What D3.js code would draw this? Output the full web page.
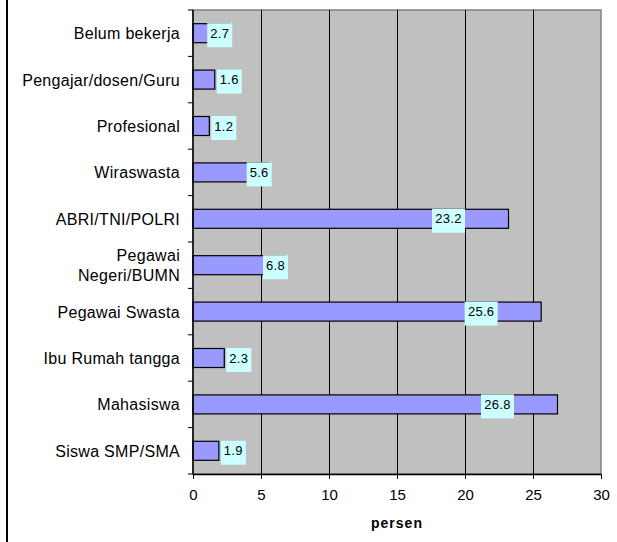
<!DOCTYPE html>
<html>
<head>
<meta charset="utf-8">
<script src="https://cdn.jsdelivr.net/npm/d3@7"></script>
<style>
  body { margin: 0; background: #fff; }
  text { font-family: Arial, "Liberation Sans", sans-serif; }
</style>
</head>
<body>
<svg width="617" height="542"></svg>
<script>
// data, top to bottom as in the chart
var categories = ['Belum bekerja', 'Pengajar/dosen/Guru', 'Profesional', 'Wiraswasta',
  'ABRI/TNI/POLRI', 'Pegawai Negeri/BUMN', 'Pegawai Swasta', 'Ibu Rumah tangga',
  'Mahasiswa', 'Siswa SMP/SMA']
var values = [2.7, 1.6, 1.2, 5.6, 23.2, 6.8, 25.6, 2.3, 26.8, 1.9]
var xTicks = [0, 5, 10, 15, 20, 25, 30]
var axisTitle = 'persen'

var svg = d3.select('svg')
// note: "top" is taken by window.top, so use other names
var pLeft = 193, pTop = 10, pRight = 601, pBottom = 474

var x = d3.scaleLinear().domain([0, 30]).range([pLeft, pRight])
var y = d3.scaleBand().domain(categories).range([pTop, pBottom])
  .paddingInner(0.59).paddingOuter(0.295)

// outer frame line on the left
svg.append('line')
  .attr('x1', 7).attr('x2', 7).attr('y1', 0).attr('y2', 542)
  .attr('stroke', '#000').attr('stroke-width', 2)

// plot area
svg.append('rect')
  .attr('x', pLeft).attr('y', pTop)
  .attr('width', pRight - pLeft).attr('height', pBottom - pTop)
  .attr('fill', '#c0c0c0')
  .attr('stroke', '#808080').attr('stroke-width', 1.5)

// grid lines
svg.selectAll('.grid')
  .data(xTicks.filter((d) => d > 0 && d < 30))
  .enter()
    .append('line')
    .attr('class', 'grid')
    .attr('x1', (d) => x(d) + 0.5).attr('x2', (d) => x(d) + 0.5)
    .attr('y1', pTop).attr('y2', pBottom)
    .attr('stroke', '#000').attr('stroke-width', 1)

// bars
svg.selectAll('.bar')
  .data(values)
  .enter()
    .append('rect')
    .attr('class', 'bar')
    .attr('x', x(0))
    .attr('y', (d, i) => y(categories[i]))
    .attr('width', (d) => x(d) - x(0))
    .attr('height', y.bandwidth())
    .attr('fill', '#9999ff')
    .attr('stroke', '#000').attr('stroke-width', 1.2)

// y axis line and ticks at band edges
svg.append('line')
  .attr('x1', pLeft).attr('x2', pLeft).attr('y1', pTop).attr('y2', pBottom)
  .attr('stroke', '#000').attr('stroke-width', 1.5)

svg.selectAll('.ytick')
  .data(d3.range(categories.length + 1))
  .enter()
    .append('line')
    .attr('class', 'ytick')
    .attr('x1', pLeft - 5).attr('x2', pLeft)
    .attr('y1', (i) => pTop + i * y.step()).attr('y2', (i) => pTop + i * y.step())
    .attr('stroke', '#000').attr('stroke-width', 1)

// category labels, the long one wrapped on two lines
svg.selectAll('.cat')
  .data(categories)
  .enter()
    .append('text')
    .attr('class', 'cat')
    .attr('text-anchor', 'end')
    .attr('font-size', 16)
    .attr('letter-spacing', 0.3)
    .attr('fill', '#000')
    .each(function (d) {
      var cy = y(d) + y.bandwidth() / 2
      var lines = d === 'Pegawai Negeri/BUMN' ? ['Pegawai', 'Negeri/BUMN'] : [d]
      var t = d3.select(this)
      lines.forEach((line, k) => {
        t.append('tspan')
          .attr('x', 180)
          .attr('y', cy + 6 + (k - (lines.length - 1) / 2) * 20)
          .text(line)
      })
    })

// x axis
var xAxis = svg.append('g')
  .attr('transform', 'translate(0,' + pBottom + ')')
  .call(d3.axisBottom(x).tickValues(xTicks).tickSize(5).tickSizeOuter(0).tickPadding(10))

xAxis.select('.domain').attr('stroke', '#000').attr('stroke-width', 1.5)
xAxis.selectAll('.tick line').attr('stroke', '#000')
xAxis.selectAll('.tick text')
  .attr('font-size', 15)
  .attr('font-family', 'Arial, "Liberation Sans", sans-serif')
  .attr('fill', '#000')

svg.append('text')
  .attr('x', 397).attr('y', 528)
  .attr('text-anchor', 'middle')
  .attr('font-size', 14)
  .attr('font-weight', 'bold')
  .attr('letter-spacing', 1)
  .text(axisTitle)

// data labels in light cyan boxes
var labels = svg.selectAll('.lbl')
  .data(values)
  .enter()
    .append('g')
    .attr('class', 'lbl')

labels.each(function (d, i) {
  var g = d3.select(this)
  var cy = y(categories[i]) + y.bandwidth() / 2
  var txt = d.toFixed(1)
  var w = txt.length > 3 ? 33 : 25
  var end = x(d)
  var bx
  if (d < 2.5) bx = end + 2
  else if (d < 10) bx = end - 10 - w / 2
  else bx = end - 60 - w / 2
  g.append('rect')
    .attr('x', bx).attr('y', cy - 10)
    .attr('width', w).attr('height', 24)
    .attr('fill', '#ccffff')
  g.append('text')
    .attr('x', bx + w / 2).attr('y', cy + 4.5)
    .attr('text-anchor', 'middle')
    .attr('font-size', 13)
    .attr('letter-spacing', 0.3)
    .attr('fill', '#000')
    .text(txt)
})
</script>
</body>
</html>
